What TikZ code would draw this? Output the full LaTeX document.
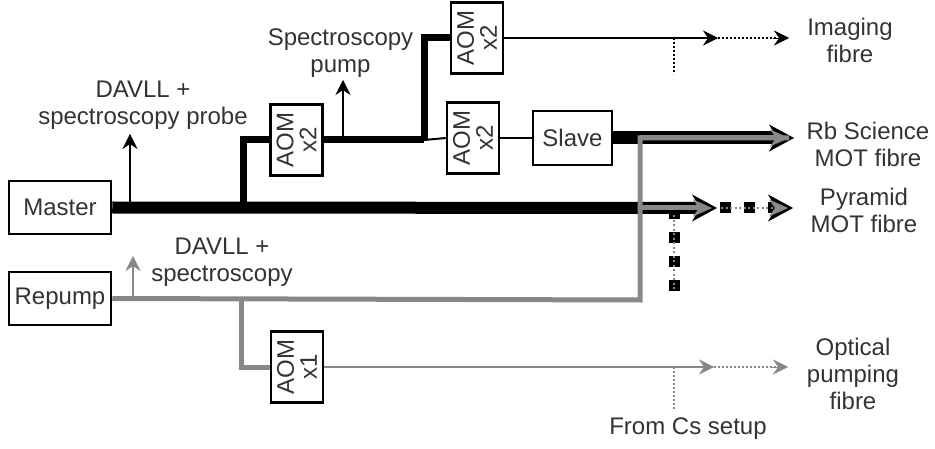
\documentclass[tikz,border=0pt]{standalone}
\usepackage{fontspec}
\setmainfont{Liberation Sans}
\usetikzlibrary{arrows.meta}
\definecolor{rgray}{HTML}{888888}
\definecolor{txt}{HTML}{333333}
\begin{document}
\begin{tikzpicture}[x=1pt,y=-1pt,
  box/.style={draw=black,line width=2.5pt,fill=white,inner sep=0pt,text=txt,font=\fontsize{24}{23}\selectfont,align=center},
  aom/.style={box,rotate=90,minimum width=71pt,minimum height=52pt},
  lasbox/.style={box,minimum width=102pt,minimum height=53pt},
  lbl/.style={text=txt,font=\fontsize{24}{27}\selectfont,align=center,inner sep=0pt},
  thinarr/.style={-{Stealth[length=15pt,width=15pt,inset=5pt,line width=0.6pt]}},
  bigarr/.style={-{Stealth[length=25pt,width=27pt,inset=8pt,line width=1pt]}},
  grarr/.style={-{Stealth[length=19pt,width=17pt,inset=6pt,line width=0.3pt]}},
  dotline/.style={line width=2pt,dash pattern=on 2pt off 2pt},
]
\useasboundingbox (0,0) rectangle (935,449);

% nodes
\node[lasbox] (master) at (60,207.5) {Master};
\node[lasbox] (repump) at (60,298.5) {Repump};
\node[aom] (aomL) at (296.5,140) {AOM\\x2};
\node[aom] (aomT) at (477,38) {AOM\\x2};
\node[aom] (aomM) at (473,138) {AOM\\x2};
\node[aom] (aom1) at (297,367) {AOM\\x1};
\node[lasbox,minimum width=79pt,minimum height=54pt] (slave) at (572.5,138) {Slave};

% labels
\node[lbl] (lprobe) at (143,105.5) {DAVLL +\\spectroscopy probe};
\node[lbl] (lpump) at (340.5,53) {Spectroscopy\\pump};
\node[lbl] (lrep) at (222,262.5) {DAVLL +\\spectroscopy};
\node[lbl] (limg) at (850,40.5) {Imaging\\fibre};
\node[lbl] (lsci) at (868,144) {Rb Science\\MOT fibre};
\node[lbl] (lpyr) at (864,210.5) {Pyramid\\MOT fibre};
\node[lbl] (lopt) at (853,373.5) {Optical\\pumping\\fibre};
\node[lbl] (lcs) at (688,429) {From Cs setup};

% coordinates
\coordinate (bM) at (243,208);
\coordinate (bL) at (424,140);
\coordinate (probe) at (130,208);
\coordinate (probeT) at (130,134);
\coordinate (pump) at (343,140);
\coordinate (pumpT) at (343,80);
\coordinate (imgA) at (718,38);
\coordinate (imgB) at (789,38);
\coordinate (imgV) at (674,38);
\coordinate (imgVb) at (674,74);
\coordinate (sciA) at (794,138);
\coordinate (sciG) at (789,138);
\coordinate (pyrA) at (717,208);
\coordinate (pyrG) at (712,208);
\coordinate (pyrB) at (793,208);
\coordinate (pyrBg) at (788,208);
\coordinate (pyrV) at (674,208);
\coordinate (pyrVb) at (674,291);
\coordinate (rC) at (640,300);
\coordinate (rU) at (640,138);
\coordinate (rP) at (640,208);
\coordinate (rB) at (241,300);
\coordinate (rep) at (133,300);
\coordinate (repT) at (133,256);
\coordinate (optA) at (714,367);
\coordinate (optB) at (788,367);
\coordinate (optV) at (674,367);
\coordinate (optVb) at (674,411);

% pyramid vertical dotted (under beam)
\draw[line width=11pt,dash pattern=on 11pt off 13pt] (pyrV) -- (pyrVb);
\draw[rgray,line width=1.6pt,dash pattern=on 2pt off 2.5pt] ([yshift=6pt]pyrV) -- (pyrVb);

% master beam
\draw[line width=12pt,bigarr] (master.east) -- (pyrA);
\draw[line width=7pt] (bM) |- (aomL.north);
\draw[line width=7pt] (aomL.south) -- (bL);
\draw[line width=7pt] (bL) |- (aomT.north);
\draw[line width=2pt] (bL) -- (aomM.north);
\draw[line width=2pt] (aomM.south) -- (slave.west);
\draw[line width=2pt,thinarr] (probe) -- (probeT);
\draw[line width=2pt,thinarr] (pump) -- (pumpT);

% imaging
\draw[line width=2pt,thinarr] (aomT.south) -- (imgA);
\draw[dotline,shorten >=12pt] (imgA) -- (imgB);
\draw[line width=0.5pt,thinarr] ([xshift=-16pt]imgB) -- (imgB);
\draw[dotline] (imgV) -- (imgVb);

% science beam
\draw[line width=13pt,bigarr] (slave.east) -- (sciA);

% pyramid dotted extension
\draw[line width=11pt,dash pattern=on 11pt off 13pt] (720,208) -- (780,208);
\draw[line width=0.5pt,bigarr] ([xshift=-24pt]pyrB) -- (pyrB);

% repump
\draw[rgray,line width=5pt] (repump.east) -- (rC) -- (rU) -- (sciG);
\draw[rgray,line width=5pt,grarr] (rU) -- (sciG);
\draw[rgray,line width=5pt,grarr] (rP) -- (pyrG);
\draw[rgray,line width=1.6pt,dash pattern=on 2pt off 2.5pt,grarr] (721,208) -- (pyrBg);
\draw[rgray,line width=5pt] (rB) |- (aom1.north);
\draw[rgray,line width=2pt,thinarr] (rep) -- (repT);
\draw[rgray,line width=2pt,thinarr] (aom1.south) -- (optA);
\draw[rgray,dotline,shorten >=12pt] (optA) -- (optB);
\draw[rgray,line width=0.5pt,thinarr] ([xshift=-16pt]optB) -- (optB);
\draw[rgray,dotline] (optV) -- (optVb);

% redraw boxes on top
\node[lasbox] at (master) {Master};
\node[lasbox] at (repump) {Repump};
\end{tikzpicture}
\end{document}
